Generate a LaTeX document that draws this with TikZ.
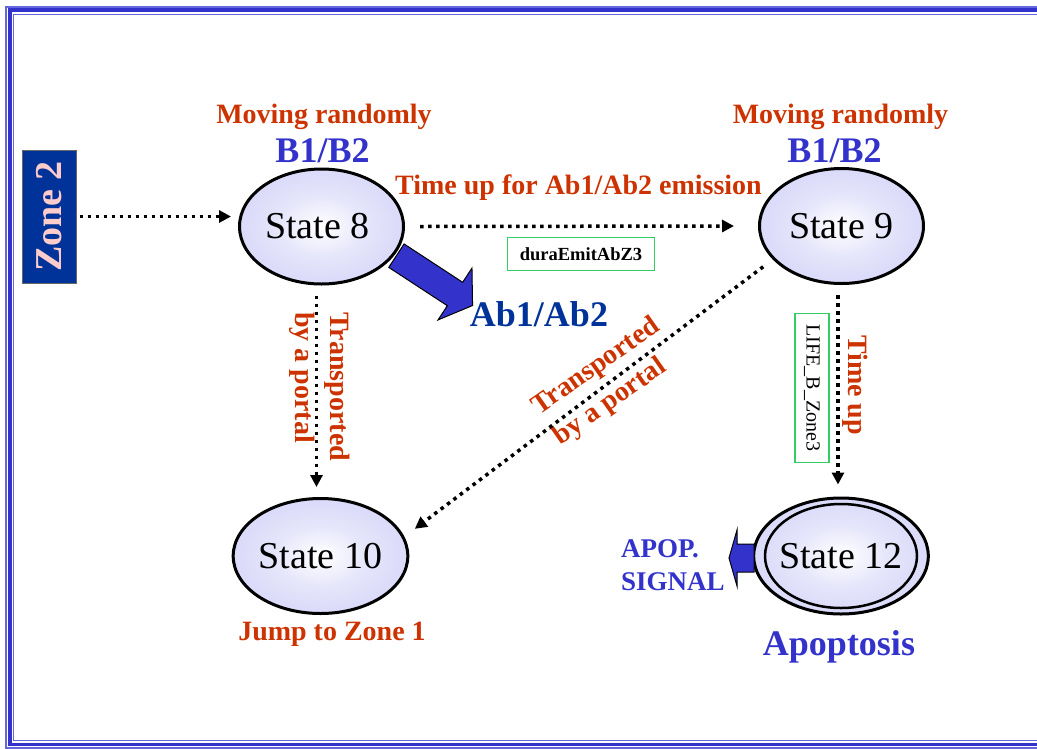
\documentclass[tikz,border=0pt]{standalone}
\usepackage{fontspec}
\setmainfont{Liberation Serif}
\usetikzlibrary{arrows.meta,shapes.geometric,calc}

\definecolor{lblred}{HTML}{CC3300}
\definecolor{lblblue}{HTML}{3333CC}
\definecolor{abblue}{HTML}{003399}
\definecolor{zonebg}{HTML}{003399}
\definecolor{zonefg}{HTML}{FFCCCC}
\definecolor{tagline}{HTML}{33CC66}
\definecolor{lav}{HTML}{C4C4F6}
\definecolor{framedark}{HTML}{3333CC}
\definecolor{framelight}{HTML}{6666DD}

\pgfdeclareradialshading{stateglow}{\pgfpoint{0bp}{0bp}}{%
  color(0bp)=(white); color(14bp)=(lav!45!white); color(48bp)=(lav); color(100bp)=(lav)}

\tikzset{
  state/.style={ellipse, draw, line width=3pt, minimum width=164pt,
    minimum height=115pt, inner sep=0pt, shading=stateglow,
    font=\fontsize{38}{44}\selectfont},
  dotarrow/.style={line width=3.5pt, dash pattern=on 3.5pt off 4.5pt,
    -{Triangle[length=12pt,width=12pt]}},
  redlbl/.style={text=lblred, inner sep=0pt,
    font=\bfseries\fontsize{28}{35}\selectfont},
  bluelbl/.style={text=lblblue, inner sep=0pt,
    font=\bfseries\fontsize{36}{42}\selectfont},
  tagbox/.style={draw=tagline, line width=1.3pt, inner sep=0pt, text=black},
  bigarrow/.style={fill=lblblue, draw=black, line width=1pt, line join=miter},
}

\begin{document}
\begin{tikzpicture}[x=1pt,y=-1pt]
\useasboundingbox (0,0) rectangle (1037,748);
\clip (0,0) rectangle (1037,748);

% triple frame
\draw[framelight, line width=2pt] (6,6.5) rectangle (1070,748);
\draw[framedark, line width=3.5pt] (9.8,10.2) rectangle (1066,744.5);
\draw[framelight, line width=1.6pt] (13.3,14.5) rectangle (1062,740.5);

% emission arrow leaving State 8
\begin{scope}[shift={(455,294)}, rotate=-33.2]
  \draw[bigarrow] (-70,-14) -- (0,-14) -- (0,-31) -- (21,0) -- (0,31)
    -- (0,14) -- (-70,14) -- cycle;
\end{scope}

% states
\node[state] (s8)  at (321.5,226.5) {State 8\hspace*{8pt}};
\node[state] (s9)  at (841.5,226)   {State 9};
\node[state] (s10) at (320.5,556)   {State 10};
\node[state, minimum width=166pt, minimum height=116pt] (s12) at (841,556) {State 12};
\draw[line width=2.5pt] (s12.center) ellipse [x radius=76pt, y radius=52pt];

% apoptosis signal arrow
\draw[bigarrow] (754,544) -- (737,544) -- (737,530) -- (729,558)
  -- (737,586) -- (737,572) -- (754,572) -- cycle;

% zone box
\node[fill=zonebg, draw=black!60, line width=1pt, rotate=90,
  minimum width=133pt, minimum height=54pt, inner sep=0pt,
  text=zonefg, font=\bfseries\fontsize{38}{44}\selectfont]
  (zone) at (49,216.5) {Zone 2};

% labels
\node[redlbl, anchor=base] (mv8) at (324,123) {Moving randomly};
\node[redlbl, anchor=base] (mv9) at (840.5,123) {Moving randomly};
\node[bluelbl, anchor=base] (b8) at (322.5,162) {B1/B2};
\node[bluelbl, anchor=base] (b9) at (834.5,162) {B1/B2};
\node[redlbl, anchor=base] (tup) at (578.5,194) {Time up for Ab1/Ab2 emission};
\node[bluelbl, text=abblue, anchor=base] (ab) at (539,326) {Ab1/Ab2};
\node[redlbl, anchor=base] (jump) at (332,640) {Jump to Zone 1};
\node[bluelbl, anchor=base] (apo) at (839,655) {Apoptosis};
\node[text=lblblue, inner sep=0pt, align=left, anchor=west,
  font=\bfseries\fontsize{27}{33}\selectfont] (sig) at (621,565) {APOP.\\SIGNAL};

\node[tagbox, minimum width=147pt, minimum height=33pt,
  font=\bfseries\fontsize{18.5}{22}\selectfont] (dura) at (581,254) {duraEmitAbZ3};
\node[tagbox, rotate=-90, minimum width=149pt, minimum height=34pt,
  font=\fontsize{20}{24}\selectfont] (life) at (812,388) {LIFE\_B\_Zone3};

\node[redlbl, rotate=-90, align=left, anchor=west] (tp8) at (319.5,312)
  {Transported\\by a portal};
\node[redlbl, rotate=35, align=left, font=\bfseries\fontsize{28}{37}\selectfont]
  (tp9) at (607,382) {Transported\\by a portal};
\node[redlbl, rotate=-90] (tu) at (855,385) {Time up};

% transitions
\draw[dotarrow] ([xshift=3pt]zone.south) -- ([xshift=-7pt]s8.west |- zone.south);
\draw[dotarrow] ([xshift=15pt]s8.east) -- ([xshift=-24pt]s9.west);
\draw[dotarrow] ([xshift=-5pt,yshift=-10pt]s8.south) -- ([xshift=-4pt,yshift=10pt]s10.north);
\draw[dotarrow] ([xshift=-3.5pt,yshift=-10pt]s9.south) -- ([xshift=-3pt,yshift=12pt]s12.north);
\draw[dotarrow, shorten <=12pt, shorten >=13pt] (s9.206) -- (s10.13);
\end{tikzpicture}
\end{document}
